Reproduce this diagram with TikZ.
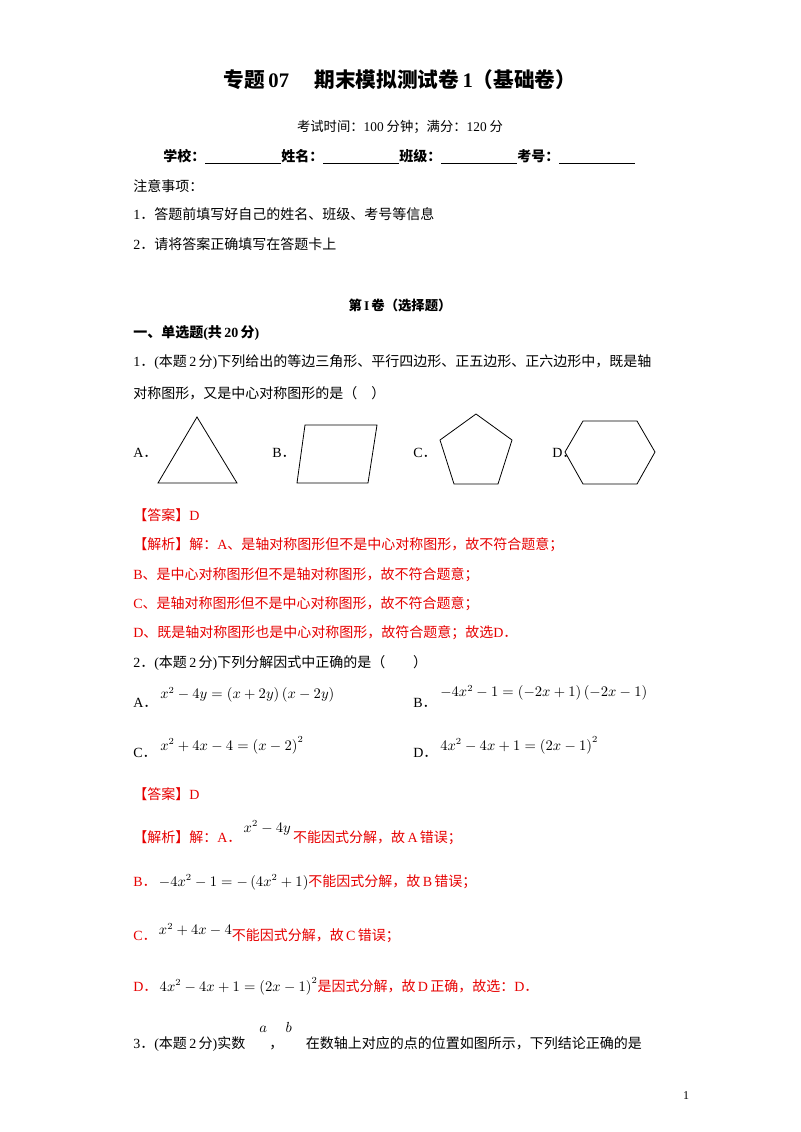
\documentclass[tikz,border=0pt]{standalone}
\usepackage{fontspec}
\setmainfont{Liberation Serif}
\newfontfamily\cjk{Noto Sans CJK SC}
\usepackage{amsmath}
\begin{document}
\begin{tikzpicture}[x=0.75pt,y=-0.75pt,
  txt/.style={anchor=west,inner sep=0pt,font=\cjk\fontsize{10.5}{12}\selectfont},
  red/.style={txt,text=red},
  shp/.style={draw,line width=0.6pt}]
\useasboundingbox (0,0) rectangle (800,1132);
\definecolor{red}{RGB}{230,0,0}
\node[inner sep=0pt,font=\cjk\bfseries\fontsize{15.5}{18}\selectfont] (t) at (400,80) {专题\,{\rmfamily 07}\quad\ 期末模拟测试卷\,{\rmfamily 1}（基础卷）};
\node[inner sep=0pt,font=\cjk\fontsize{10}{12}\selectfont] (t2) at (400,127) {考试时间：{\rmfamily 100} 分钟；满分：{\rmfamily 120} 分};
\node[txt,font=\cjk\bfseries\fontsize{10.5}{12}\selectfont] (s) at (163,157) {学校：\underline{\hspace{57pt}}姓名：\underline{\hspace{57pt}}班级：\underline{\hspace{57pt}}考号：\underline{\hspace{57pt}}};
\node[txt] (n0) at (133,186) {注意事项：};
\node[txt] (n1) at (133,214) {{\rmfamily 1}．答题前填写好自己的姓名、班级、考号等信息};
\node[txt] (n2) at (133,244) {{\rmfamily 2}．请将答案正确填写在答题卡上};
\node[inner sep=0pt,font=\cjk\bfseries\fontsize{10}{12}\selectfont] (j) at (400,305) {第\,{\rmfamily\bfseries I}\,卷（选择题）};
\node[txt,font=\cjk\bfseries\fontsize{10.5}{12}\selectfont] (d) at (133,333) {一、单选题{\rmfamily\bfseries (}共\,{\rmfamily\bfseries 20}\,分{\rmfamily\bfseries )}};
\node[txt] (q1) at (133,362) {{\rmfamily 1}．{\rmfamily (}本题\,{\rmfamily 2}\,分{\rmfamily )}下列给出的等边三角形、平行四边形、正五边形、正六边形中，既是轴};
\node[txt] (q1b) at (133,393) {对称图形，又是中心对称图形的是（\quad）};
\node[txt] (oa) at (133,453) {{\rmfamily A}．};
\node[txt] (ob) at (272,453) {{\rmfamily B}．};
\node[txt] (oc) at (413,453) {{\rmfamily C}．};
\node[txt] (od) at (552,453) {{\rmfamily D}．};
\draw[shp] (197,417) -- (237,483) -- (158,483) -- cycle;
\draw[shp] (305,425) -- (377,425) -- (368,483) -- (297,483) -- cycle;
\draw[shp] (476,414) -- (512,440) -- (498,484) -- (454,484) -- (440,440) -- cycle;
\draw[shp] (583,421) -- (637,421) -- (655,452) -- (637,484) -- (583,484) -- (565,452) -- cycle;
\node[red] (a1) at (133,515) {【答案】{\rmfamily D}};
\node[red] (e1) at (133,545) {【解析】解：{\rmfamily A}、是轴对称图形但不是中心对称图形，故不符合题意；};
\node[red] (e2) at (133,575) {{\rmfamily B}、是中心对称图形但不是轴对称图形，故不符合题意；};
\node[red] (e3) at (133,604) {{\rmfamily C}、是轴对称图形但不是中心对称图形，故不符合题意；};
\node[red] (e4) at (133,633) {{\rmfamily D}、既是轴对称图形也是中心对称图形，故符合题意；故选{\rmfamily D}．};
\node[txt] (q2) at (133,663) {{\rmfamily 2}．{\rmfamily (}本题\,{\rmfamily 2}\,分{\rmfamily )}下列分解因式中正确的是（\qquad）};
\node[txt] (pa) at (133,703) {{\rmfamily A}．};
\node[txt] (ma) at (160,695) {$x^2-4y=\left(x+2y\right)\left(x-2y\right)$};
\node[txt] (pb) at (413,703) {{\rmfamily B}．};
\node[txt] (mb) at (440,693) {$-4x^2-1=\left(-2x+1\right)\left(-2x-1\right)$};
\node[txt] (pc) at (133,753) {{\rmfamily C}．};
\node[txt] (mc) at (160,745) {$x^2+4x-4=\left(x-2\right)^2$};
\node[txt] (pd) at (413,753) {{\rmfamily D}．};
\node[txt] (md) at (440,745) {$4x^2-4x+1=\left(2x-1\right)^2$};
\node[red] (a2) at (133,794) {【答案】{\rmfamily D}};
\node[red] (f1) at (133,833) {【解析】解：{\rmfamily A}．\,{\color{black}\raisebox{8pt}{$x^2-4y$}}\,不能因式分解，故\,{\rmfamily A}\,错误；};
\node[red] (f2) at (133,882) {{\rmfamily B}．\,{\color{black}$-4x^2-1=-\left(4x^2+1\right)$}不能因式分解，故\,{\rmfamily B}\,错误；};
\node[red] (f3) at (133,933) {{\rmfamily C}．\,{\color{black}\raisebox{4pt}{$x^2+4x-4$}}不能因式分解，故\,{\rmfamily C}\,错误；};
\node[red] (f4) at (133,986) {{\rmfamily D}．\,{\color{black}$4x^2-4x+1=\left(2x-1\right)^2$}是因式分解，故\,{\rmfamily D}\,正确，故选：{\rmfamily D}．};
\node[txt] (q3) at (133,1037) {{\rmfamily 3}．{\rmfamily (}本题\,{\rmfamily 2}\,分{\rmfamily )}实数\quad\raisebox{12pt}{$a$}\,，\,\raisebox{12pt}{$b$}\quad 在数轴上对应的点的位置如图所示，下列结论正确的是};
\node[inner sep=0pt,font=\rmfamily\fontsize{9}{10}\selectfont] (pg) at (686,1096) {1};
\end{tikzpicture}
\end{document}
